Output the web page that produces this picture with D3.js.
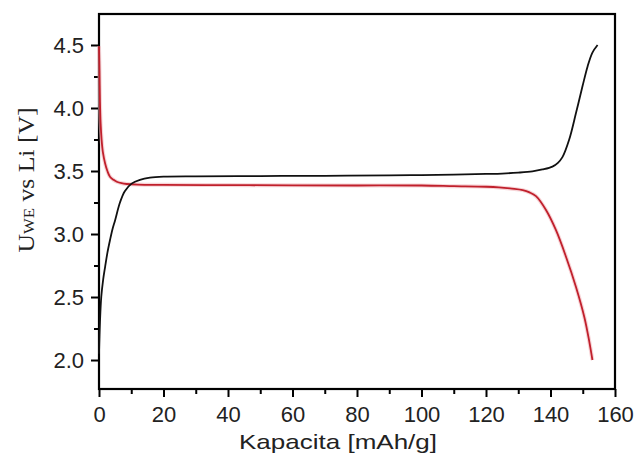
<!DOCTYPE html>
<html><head><meta charset="utf-8">
<script src="https://cdn.jsdelivr.net/npm/d3@7"></script>
<style>html,body{margin:0;padding:0;background:#fff;}svg{display:block;}</style>
</head><body>
<svg id="chart" width="637" height="454"></svg>
<script>
// Charge curve (black)
const chargeCap = [0, 0.3, 0.7, 1.3, 1.9, 2.6, 3.4, 4.2, 5, 6.5, 8, 10.1, 12.7, 15.8, 20, 30, 50, 70, 90, 100, 110, 120, 125, 130, 134.4, 137.5, 140.6, 142.3, 143.7, 145.8, 147.9, 149.9, 151.5, 153, 154.6];
const chargeV   = [2.05, 2.3, 2.5, 2.64, 2.74, 2.85, 2.95, 3.04, 3.11, 3.25, 3.34, 3.40, 3.43, 3.447, 3.455, 3.458, 3.46, 3.462, 3.465, 3.468, 3.472, 3.477, 3.48, 3.487, 3.497, 3.512, 3.535, 3.565, 3.61, 3.75, 3.96, 4.17, 4.33, 4.44, 4.5];
// Discharge curve (red)
const dischargeCap = [0, 0.15, 0.3, 0.5, 0.8, 1.2, 1.9, 2.6, 3.4, 4.5, 5.5, 7, 8.6, 12, 20, 40, 60, 80, 100, 110, 120, 124, 128, 131.4, 133.5, 135.5, 138.6, 141.7, 144.8, 147.9, 150.5, 152, 153];
const dischargeV   = [4.49, 4.3, 4.05, 3.88, 3.75, 3.65, 3.56, 3.5, 3.455, 3.43, 3.415, 3.403, 3.397, 3.392, 3.39, 3.388, 3.386, 3.385, 3.385, 3.38, 3.375, 3.37, 3.36, 3.348, 3.33, 3.30, 3.19, 3.03, 2.82, 2.58, 2.34, 2.15, 2.0];

const xMajorTicks = [0, 20, 40, 60, 80, 100, 120, 140, 160];
const xMinorTicks = [10, 30, 50, 70, 90, 110, 130, 150];
const yMajorTicks = [2.0, 2.5, 3.0, 3.5, 4.0, 4.5];
const yMinorTicks = [2.25, 2.75, 3.25, 3.75, 4.25];
const xTitle = "Kapacita [mAh/g]";

const svg = d3.select("#chart");
const L = 99, R = 615, T = 14, B = 389;
const x = d3.scaleLinear().domain([0, 160]).range([L, R]);
const y = d3.scaleLinear().domain([1.77, 4.746]).range([B, T]);

const tickFont = "'Liberation Sans', Arial, sans-serif";

// minor ticks
svg.append("g").attr("transform", `translate(0,${B})`)
  .call(d3.axisBottom(x).tickValues(xMinorTicks).tickSize(5).tickFormat(""))
  .call(g => g.select(".domain").remove())
  .call(g => g.selectAll("line").attr("stroke", "#000").attr("stroke-width", 2));
svg.append("g").attr("transform", `translate(${L},0)`)
  .call(d3.axisLeft(y).tickValues(yMinorTicks).tickSize(5).tickFormat(""))
  .call(g => g.select(".domain").remove())
  .call(g => g.selectAll("line").attr("stroke", "#000").attr("stroke-width", 2));

// major axes
const xa = svg.append("g").attr("transform", `translate(0,${B})`)
  .call(d3.axisBottom(x).tickValues(xMajorTicks).tickSize(8).tickPadding(9).tickSizeOuter(0).tickFormat(d3.format("d")));
const ya = svg.append("g").attr("transform", `translate(${L},0)`)
  .call(d3.axisLeft(y).tickValues(yMajorTicks).tickSize(8).tickPadding(7).tickSizeOuter(0).tickFormat(d3.format(".1f")));
[xa, ya].forEach(a => {
  a.select(".domain").remove();
  a.selectAll("line").attr("stroke", "#000").attr("stroke-width", 2);
  a.selectAll("text").attr("font-family", tickFont).attr("font-size", 22).attr("fill", "#222");
});

// frame
svg.append("rect").attr("x", L).attr("y", T).attr("width", R - L).attr("height", B - T)
  .attr("fill", "none").attr("stroke", "#000").attr("stroke-width", 2.2);

// curves
const line = d3.line().x(d => x(d[0])).y(d => y(d[1])).curve(d3.curveCatmullRom.alpha(0.5));
const charge = chargeCap.map((c, i) => [c, chargeV[i]]);
const discharge = dischargeCap.map((c, i) => [c, dischargeV[i]]);
svg.append("path").datum(discharge).attr("d", line)
  .attr("fill", "none").attr("stroke", "#f2b8bc").attr("stroke-width", 4).attr("opacity", 0.6);
svg.append("path").datum(discharge).attr("d", line)
  .attr("fill", "none").attr("stroke", "#c0202c").attr("stroke-width", 1.8);
svg.append("path").datum(charge).attr("d", line)
  .attr("fill", "none").attr("stroke", "#111").attr("stroke-width", 1.8);

// x title
svg.append("text").attr("x", 338).attr("y", 449).attr("text-anchor", "middle")
  .attr("font-family", tickFont).attr("font-size", 21).attr("fill", "#222")
  .attr("textLength", 198).attr("lengthAdjust", "spacingAndGlyphs")
  .text(xTitle);

// y title
const yt = svg.append("text").attr("transform", "translate(34,180) rotate(-90)")
  .attr("text-anchor", "middle").attr("font-family", "'Liberation Serif', 'Times New Roman', serif")
  .attr("font-size", 23).attr("fill", "#222")
  .attr("textLength", 145).attr("lengthAdjust", "spacingAndGlyphs");
yt.append("tspan").text("U");
yt.append("tspan").attr("font-size", 15).text("WE");
yt.append("tspan").text(" vs Li [V]");
</script>
</body></html>
